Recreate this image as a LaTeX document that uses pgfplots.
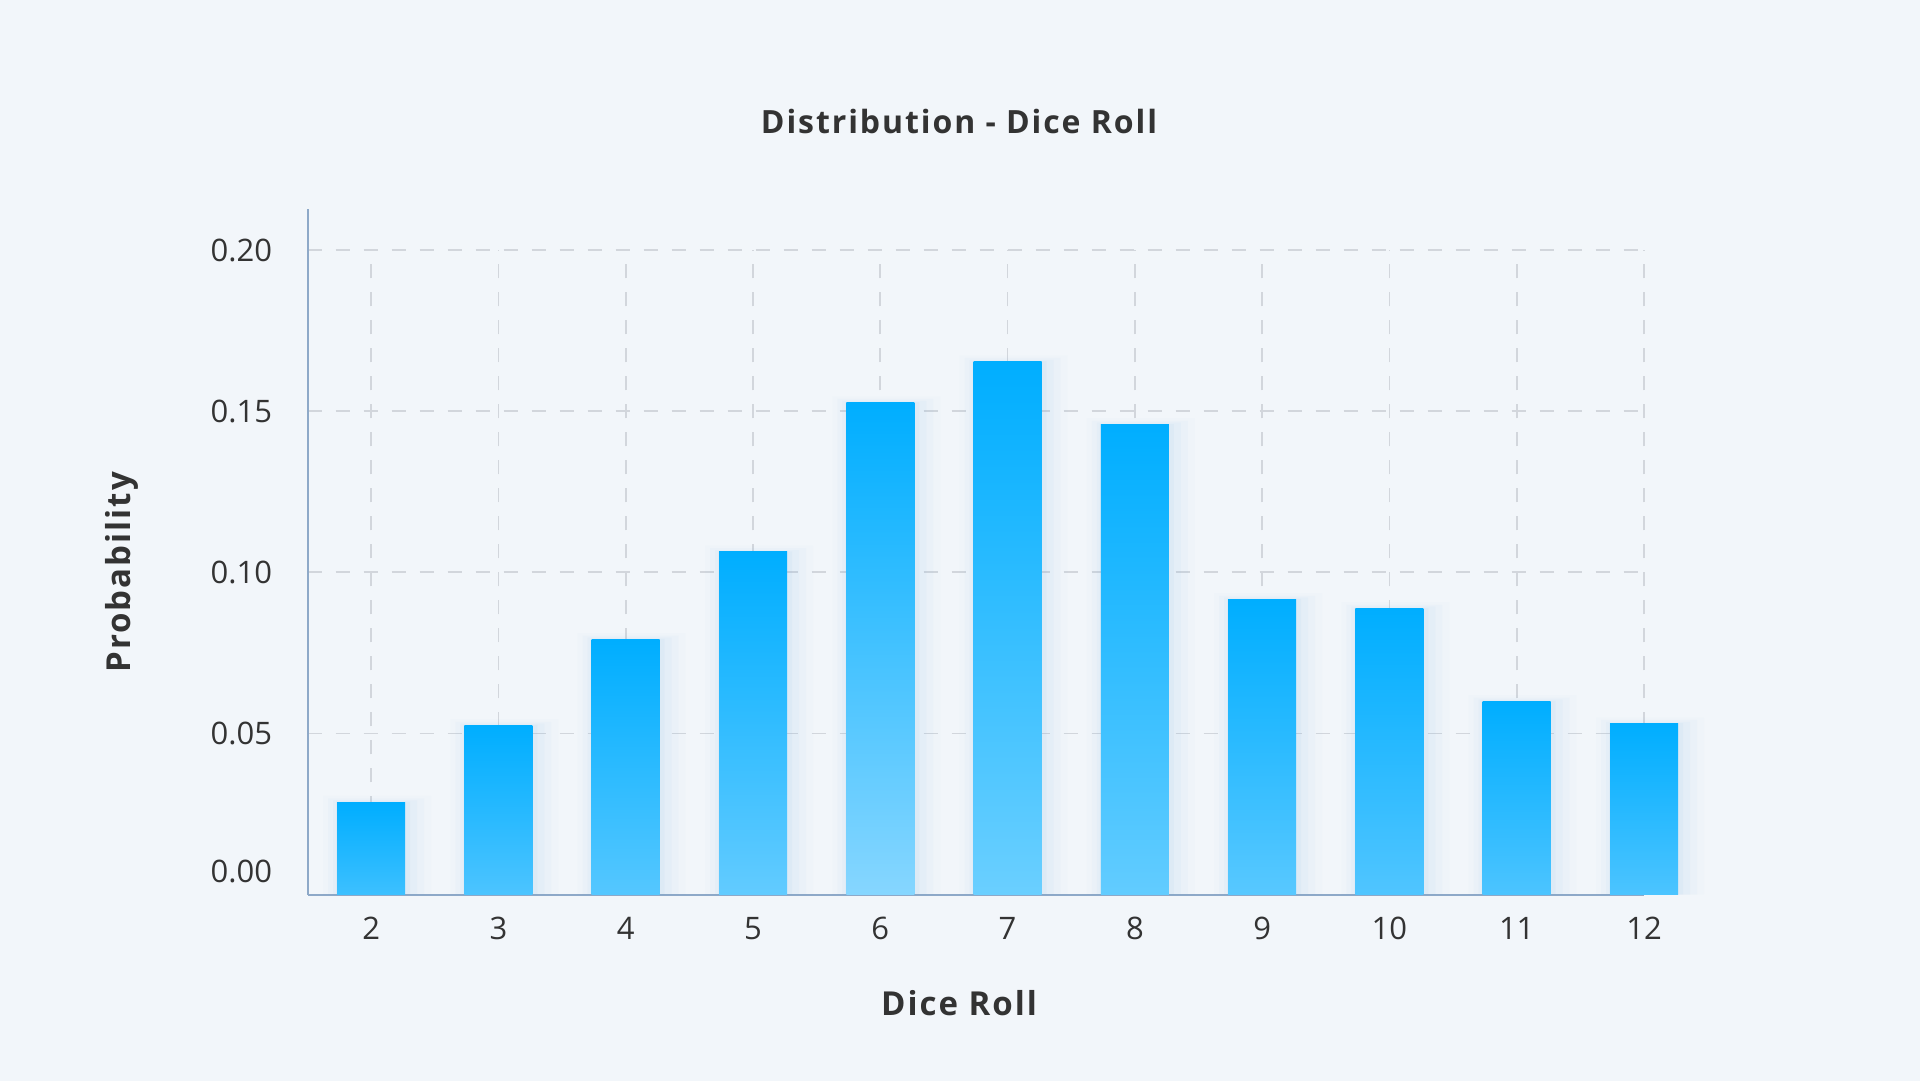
\documentclass[border=0pt]{standalone}
\usepackage{fontspec}
\setmainfont{Open Sans}
\newfontfamily\spacedfont[LetterSpace=6]{Open Sans}
\usepackage{pgfplots}
\usepackage{pgfplotstable}
\pgfplotsset{compat=1.18}
\definecolor{bg}{HTML}{F2F6FA}
\definecolor{txt}{HTML}{333333}
\definecolor{axisc}{HTML}{8EA9C8}
\definecolor{gridc}{HTML}{D2D6DC}
\definecolor{bartop}{HTML}{00AEFF}
\definecolor{glowc}{HTML}{6AA8E0}
\definecolor{b2}{HTML}{3DC0FF}
\definecolor{b3}{HTML}{4CC4FF}
\definecolor{b4}{HTML}{55C7FF}
\definecolor{b5}{HTML}{62CBFF}
\definecolor{b6}{HTML}{86D6FF}
\definecolor{b7}{HTML}{6ACFFF}
\definecolor{b8}{HTML}{62CCFF}
\definecolor{b9}{HTML}{58C8FF}
\definecolor{b10}{HTML}{50C5FF}
\definecolor{b11}{HTML}{4CC4FF}
\definecolor{b12}{HTML}{4CC4FF}
\pgfplotstableread{
x p
2 0.0286
3 0.0524
4 0.0791
5 0.1063
6 0.1526
7 0.1653
8 0.1458
9 0.0915
10 0.0887
11 0.0599
12 0.0530
}\dice
\begin{document}
\begin{tikzpicture}[x=0.5pt,y=0.5pt]
\fill[bg] (0,0) rectangle (1920,1081);
\begin{axis}[
  at={(153.75pt,93.25pt)}, anchor=south west,
  scale only axis, width=668.25pt, height=322.25pt,
  xmin=1.5, xmax=12, ymin=0, ymax=0.2,
  clip=false,
  axis lines=left,
  axis line style={-, draw=axisc, line width=1pt},
  x axis line style={-},
  y axis line style={-, shorten >=-20.5pt},
  major tick length=0pt,
  xtick={2,3,4,5,6,7,8,9,10,11,12},
  xticklabels={2,3,4,5,6,7,8,9,10,11,12},
  ytick={0.05,0.1,0.15,0.2},
  yticklabels={0.05,0.10,0.15,0.20},
  extra y ticks={0},
  extra y tick labels={0.00},
  extra y tick style={grid=none, yticklabel style={yshift=11.5pt}},
  grid=major,
  major grid style={draw=gridc, line width=0.8pt, dash pattern=on 7pt off 7pt},
  xticklabel style={font=\fontsize{15.5}{18}\selectfont, text=txt, anchor=north, inner sep=0pt, yshift=-11pt},
  yticklabel style={font=\fontsize{15.5}{18}\selectfont, text=txt, anchor=east, inner sep=0pt, xshift=-17.5pt},
  title={Distribution - Dice Roll},
  title style={at={(axis description cs:0.4875,1.1815)}, anchor=center, font=\spacedfont\bfseries\fontsize{16}{19}\selectfont, text=txt},
  xlabel={Dice Roll},
  xlabel style={at={(axis description cs:0.4875,-0.1684)}, anchor=center, font=\spacedfont\bfseries\fontsize{16.5}{20}\selectfont, text=txt},
  ylabel={Probability},
  ylabel style={at={(axis description cs:-0.1388,0.5)}, anchor=center, font=\spacedfont\bfseries\fontsize{16.5}{20}\selectfont, text=txt},
]
% soft glow behind bars
\addplot[ybar, bar width=54pt, bar shift=3pt, draw=none, fill=glowc, fill opacity=0.02] table[x=x, y expr=\thisrow{p}+0.002]{\dice};
\addplot[ybar, bar width=48pt, bar shift=2.5pt, draw=none, fill=glowc, fill opacity=0.03] table[x=x, y expr=\thisrow{p}+0.0012]{\dice};
\addplot[ybar, bar width=42pt, bar shift=2pt, draw=none, fill=glowc, fill opacity=0.04] table[x=x, y expr=\thisrow{p}+0.0006]{\dice};
\addplot[ybar, bar width=37pt, bar shift=1pt, draw=none, fill=glowc, fill opacity=0.05] table[x=x, y expr=\thisrow{p}+0.0002]{\dice};
% bars
\addplot[ybar, bar width=34pt, bar shift=0pt, draw=none, top color=bartop, bottom color=b2] coordinates {(2,0.0286)};
\addplot[ybar, bar width=34pt, bar shift=0pt, draw=none, top color=bartop, bottom color=b3] coordinates {(3,0.0524)};
\addplot[ybar, bar width=34pt, bar shift=0pt, draw=none, top color=bartop, bottom color=b4] coordinates {(4,0.0791)};
\addplot[ybar, bar width=34pt, bar shift=0pt, draw=none, top color=bartop, bottom color=b5] coordinates {(5,0.1063)};
\addplot[ybar, bar width=34pt, bar shift=0pt, draw=none, top color=bartop, bottom color=b6] coordinates {(6,0.1526)};
\addplot[ybar, bar width=34pt, bar shift=0pt, draw=none, top color=bartop, bottom color=b7] coordinates {(7,0.1653)};
\addplot[ybar, bar width=34pt, bar shift=0pt, draw=none, top color=bartop, bottom color=b8] coordinates {(8,0.1458)};
\addplot[ybar, bar width=34pt, bar shift=0pt, draw=none, top color=bartop, bottom color=b9] coordinates {(9,0.0915)};
\addplot[ybar, bar width=34pt, bar shift=0pt, draw=none, top color=bartop, bottom color=b10] coordinates {(10,0.0887)};
\addplot[ybar, bar width=34pt, bar shift=0pt, draw=none, top color=bartop, bottom color=b11] coordinates {(11,0.0599)};
\addplot[ybar, bar width=34pt, bar shift=0pt, draw=none, top color=bartop, bottom color=b12] coordinates {(12,0.0530)};
\end{axis}
\end{tikzpicture}
\end{document}
